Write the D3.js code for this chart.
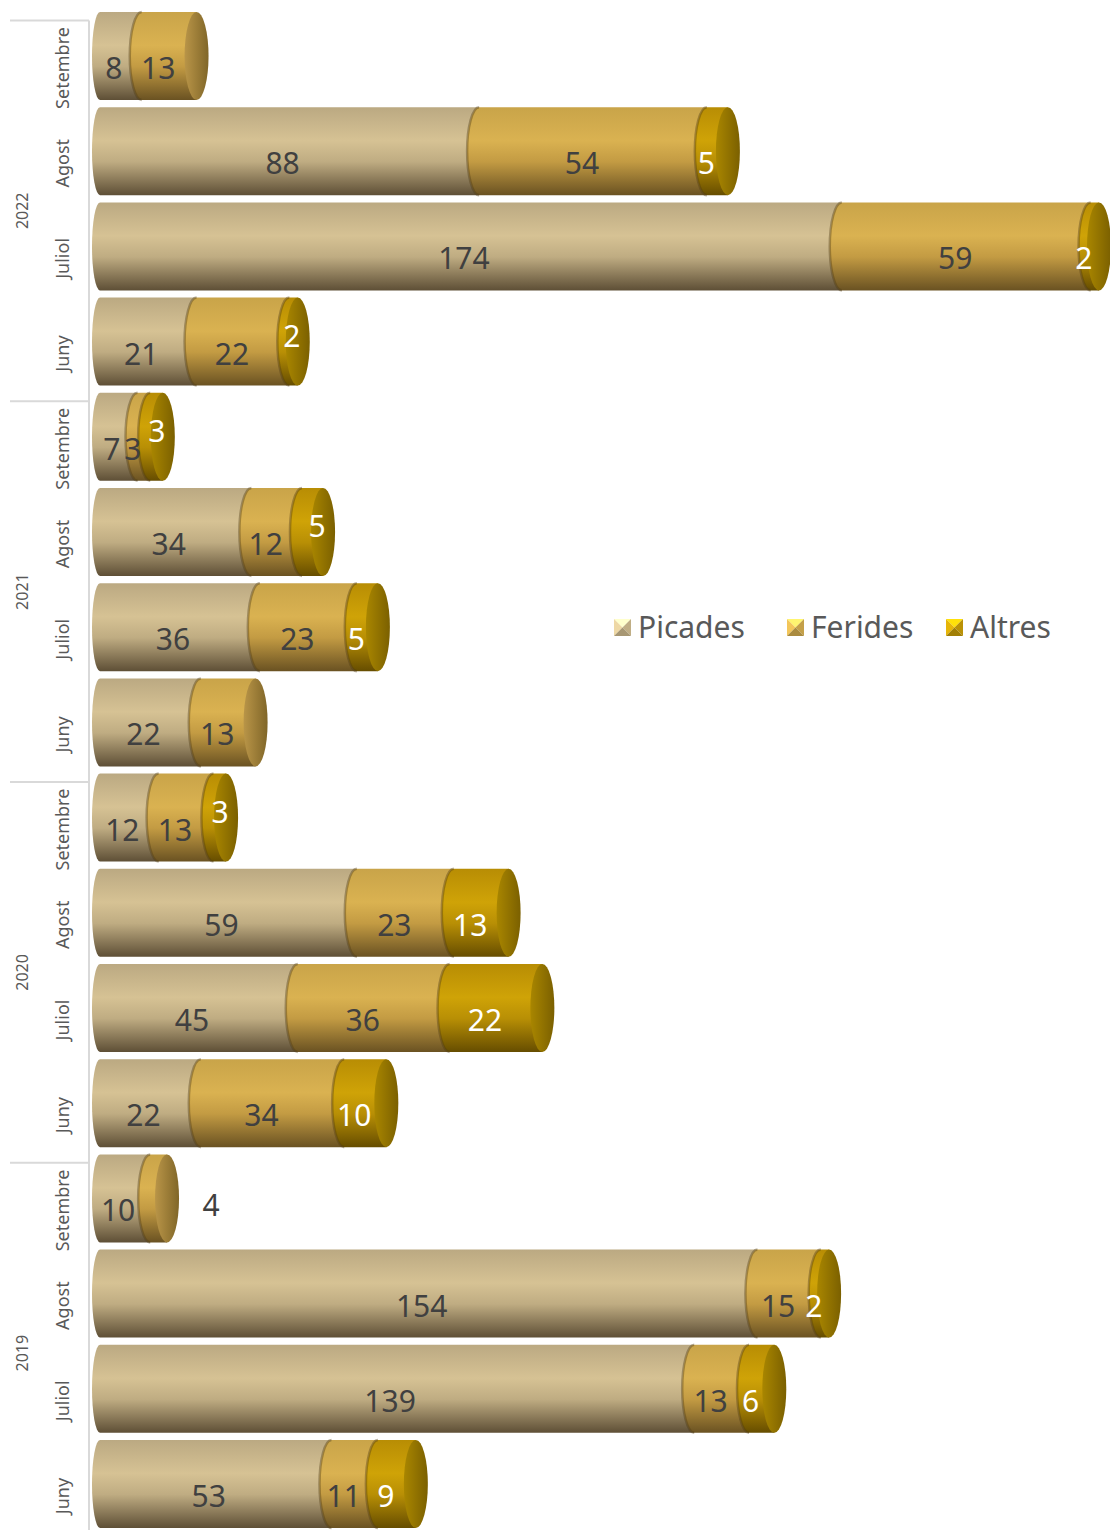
<!DOCTYPE html>
<meta charset="utf-8">
<style>
    body { margin: 0; background: #fff; }
    svg text { font-family: "Noto Sans", "Open Sans", sans-serif; }
</style>
<script src="https://d3js.org/d3.v7.min.js"></script>
<body>
<div id="chart"></div>
<script>

    // data, top to bottom as drawn
    var years = ["2022", "2021", "2020", "2019"];
    var months = ["Setembre", "Agost", "Juliol", "Juny"];
    var series = ["Picades", "Ferides", "Altres"];

    var picades = [8, 88, 174, 21,   7, 34, 36, 22,   12, 59, 45, 22,   10, 154, 139, 53];
    var ferides = [13, 54, 59, 22,   3, 12, 23, 13,   13, 23, 36, 34,   4, 15, 13, 11];
    var altres  = [0, 5, 2, 2,       3, 5, 5, 0,      3, 13, 22, 10,    0, 2, 6, 9];

    var width = 1110, height = 1530;

    // colours per series: body gradient stops, cap gradient, label colour
    var bodyStops = {
        Picades: ["#bba982", "#d6c294", "#bfac82", "#5e4f36"],
        Ferides: ["#c9a449", "#dab251", "#c39b43", "#6a5222"],
        Altres:  ["#b88d04", "#cfa307", "#b88f05", "#664d00"]
    };
    var capStops = {
        Picades: ["#b9a67d", "#867452"],
        Ferides: ["#b99548", "#806628"],
        Altres:  ["#a98600", "#7b6000"]
    };
    var labelColor = { Picades: "#404040", Ferides: "#404040", Altres: "#ffffff" };

    var rows = picades.map(function(p, i) {
        return {
            key: years[Math.floor(i / 4)] + "-" + months[i % 4],
            year: years[Math.floor(i / 4)],
            month: months[i % 4],
            Picades: p, Ferides: ferides[i], Altres: altres[i]
        };
    });

    var stacked = d3.stack().keys(series)(rows);

    var svg = d3.select("#chart").append("svg")
        .attr("width", width)
        .attr("height", height);

    var defs = svg.append("defs");
    series.forEach(function(s) {
        var g = defs.append("linearGradient").attr("id", "body-" + s)
            .attr("x1", 0).attr("y1", 0).attr("x2", 0).attr("y2", 1);
        [0, 0.38, 0.62, 1].forEach(function(o, j) {
            g.append("stop").attr("offset", o).attr("stop-color", bodyStops[s][j]);
        });
        var c = defs.append("linearGradient").attr("id", "cap-" + s)
            .attr("x1", 0).attr("y1", 0).attr("x2", 1).attr("y2", 0);
        c.append("stop").attr("offset", 0).attr("stop-color", capStops[s][0]);
        c.append("stop").attr("offset", 1).attr("stop-color", capStops[s][1]);
    });

    var x = d3.scaleLinear()
        .domain([0, 235])
        .range([108, 1099]);

    var y = d3.scaleBand()
        .domain(rows.map(function(d) { return d.key; }))
        .range([8.4, 1531.6])
        .paddingInner(0.0756)
        .paddingOuter(0.0378);

    var rx = 12;       // ellipse depth of the cylinders
    var shift = 12;    // axis sits a bit lower than the bars (3d offset)
    var axisColor = "#d9d9d9", textColor = "#595959";

    // ---- axis: lines and labels
    var step = y.step();
    var firstTop = y(rows[0].key);
    svg.append("line")
        .attr("x1", 89).attr("x2", 89)
        .attr("y1", firstTop - (step - y.bandwidth()) / 2 + shift).attr("y2", height)
        .attr("stroke", axisColor).attr("stroke-width", 2);

    years.forEach(function(yr, gi) {
        var yTop = y(rows[gi * 4].key) - (step - y.bandwidth()) / 2 + shift;
        svg.append("line")
            .attr("x1", 10).attr("x2", 89)
            .attr("y1", yTop).attr("y2", yTop)
            .attr("stroke", axisColor).attr("stroke-width", 2);
        var yMid = yTop + step * 2;
        svg.append("text")
            .attr("transform", "translate(22," + yMid + ") rotate(-90)")
            .attr("text-anchor", "middle")
            .attr("dy", "0.35em")
            .style("font-size", "16px")
            .style("fill", textColor)
            .text(yr);
    });

    svg.append("g").selectAll("text")
        .data(rows)
        .enter().append("text")
        .attr("transform", function(d) {
            return "translate(63," + (y(d.key) + y.bandwidth() / 2 + shift) + ") rotate(-90)";
        })
        .attr("text-anchor", "middle")
        .attr("dy", "0.35em")
        .style("font-size", "18px")
        .style("fill", textColor)
        .text(function(d) { return d.month; });

    // ---- cylinders
    function bodyPath(x0, x1, top, h, bulge) {
        return "M" + x0 + "," + top + "L" + x1 + "," + top + "L" + x1 + "," + (top + h) +
            "L" + x0 + "," + (top + h) +
            "A" + bulge + "," + (h / 2) + " 0 0 1 " + x0 + "," + top + "Z";
    }

    var bars = svg.append("g");
    rows.forEach(function(row, i) {
        var top = y(row.key), h = y.bandwidth();
        var segs = stacked.map(function(layer) {
            return { s: layer.key, a: layer[i][0], b: layer[i][1], v: row[layer.key] };
        }).filter(function(d) { return d.v > 0; });
        var g = bars.append("g");
        segs.forEach(function(d, j) {
            var x0 = x(d.a), x1 = x(d.b);
            g.append("path")
                .attr("d", bodyPath(j === 0 ? x0 - 8 : x0, x1, top, h, j === 0 ? 8 : rx))
                .attr("fill", "url(#body-" + d.s + ")");
            if (j > 0) {
                g.append("path")
                    .attr("d", "M" + x0 + "," + (top + h) + "A" + rx + "," + (h / 2) + " 0 0 1 " + x0 + "," + top)
                    .attr("fill", "none")
                    .attr("stroke", "rgba(80,60,20,0.4)")
                    .attr("stroke-width", 2.5);
            }
            if (j === segs.length - 1) {
                g.append("ellipse")
                    .attr("cx", x1).attr("cy", top + h / 2)
                    .attr("rx", rx).attr("ry", h / 2)
                    .attr("fill", "url(#cap-" + d.s + ")");
            }
        });

        // labels
        var total = row.Picades + row.Ferides + row.Altres;
        segs.forEach(function(d, j) {
            var x0 = x(d.a), x1 = x(d.b);
            var lx = (x0 + x1) / 2 - 11;
            var ly = top + h / 2 + 23;
            var last = j === segs.length - 1;
            if (last && d.s !== "Altres" && x1 - x0 < 20) {
                lx = x1 + rx + 32; ly -= 5;
            } else if (d.s === "Altres" && total < 60) {
                ly -= 18;
                lx = Math.max(lx, x1 - 6);
            }
            g.append("text")
                .attr("x", lx).attr("y", ly)
                .attr("text-anchor", "middle")
                .style("font-size", "30px")
                .style("fill", labelColor[d.s])
                .text(d.v);
        });
    });

    // ---- legend
    var legendX = [614, 787, 946];
    var legend = svg.append("g");
    series.forEach(function(s, i) {
        var lx = legendX[i], ly = 619, sz = 17;
        var c = d3.color(bodyStops[s][1]);
        var tri = [
            [[lx, ly], [lx + sz, ly], [lx + sz / 2, ly + sz / 2], c.brighter(0.9)],
            [[lx, ly], [lx, ly + sz], [lx + sz / 2, ly + sz / 2], c.brighter(0.3)],
            [[lx + sz, ly], [lx + sz, ly + sz], [lx + sz / 2, ly + sz / 2], c.darker(0.3)],
            [[lx, ly + sz], [lx + sz, ly + sz], [lx + sz / 2, ly + sz / 2], c.darker(0.7)]
        ];
        tri.forEach(function(t) {
            legend.append("path")
                .attr("d", "M" + t[0] + "L" + t[1] + "L" + t[2] + "Z")
                .attr("fill", t[3]);
        });
        legend.append("text")
            .attr("x", lx + 24).attr("y", ly + 19)
            .style("font-size", "30px")
            .style("fill", textColor)
            .text(s);
    });

</script>
</body>
